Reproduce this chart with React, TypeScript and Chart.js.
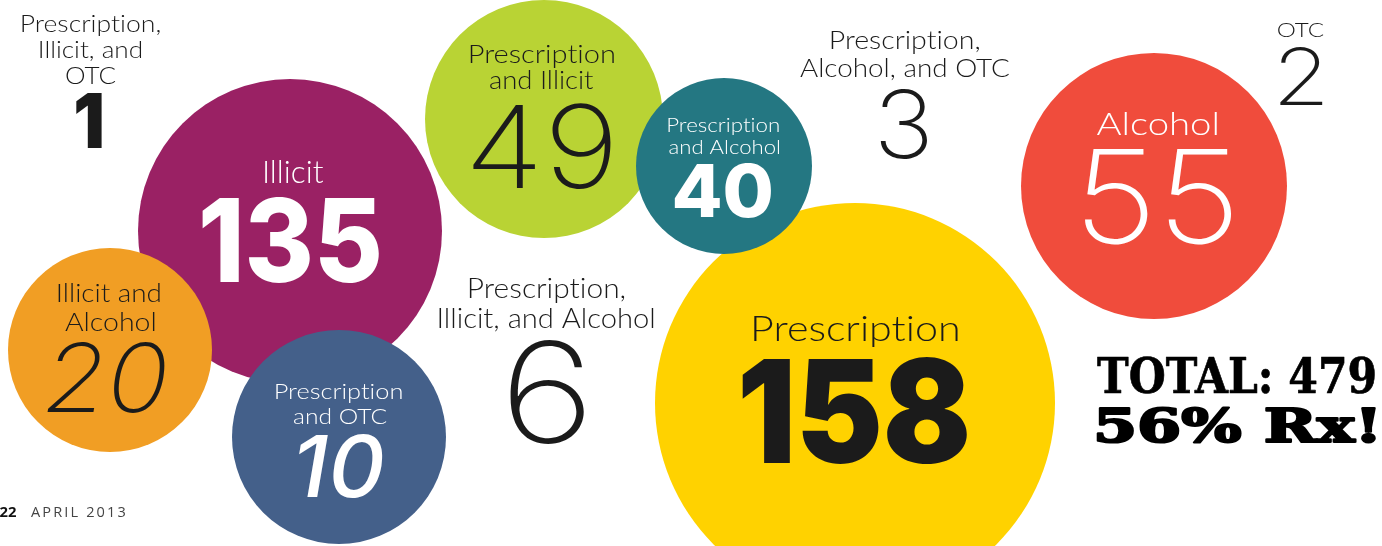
import React, { useEffect, useRef } from "react";
import { Chart, registerables } from "chart.js";

Chart.register(...registerables);

// ---------- data ----------
const categories = [
  "Illicit",
  "Prescription and Illicit",
  "Prescription",
  "Illicit and Alcohol",
  "Prescription and OTC",
  "Prescription and Alcohol",
  "Alcohol",
  "Prescription, Illicit, and OTC",
  "Prescription, Illicit, and Alcohol",
  "Prescription, Alcohol, and OTC",
  "OTC",
];
const counts = [135, 49, 158, 20, 10, 40, 55, 1, 6, 3, 2];
const labelLines = [
  ["Illicit"],
  ["Prescription", "and Illicit"],
  ["Prescription"],
  ["Illicit and", "Alcohol"],
  ["Prescription", "and OTC"],
  ["Prescription", "and Alcohol"],
  ["Alcohol"],
  ["Prescription,", "Illicit, and", "OTC"],
  ["Prescription,", "Illicit, and Alcohol"],
  ["Prescription,", "Alcohol, and OTC"],
  ["OTC"],
];
// bubble placement (data coordinates) and radius
const bubbleX = [290, 544, 855, 110, 339, 724, 1154, 89, 547, 904, 1301];
const bubbleY = [231, 119, 403, 350, 437, 166, 186, 120, 391, 123, 76];
const bubbleR = [152, 119, 200, 102, 107, 88, 133, 0, 0, 0, 0];

const totalLabel = "TOTAL: 479";
const rxLabel = "56% Rx!";
const pageNumber = "22";
const issueDate = "APRIL 2013";

// ---------- styles ----------
const bubbleColors = [
  "#9A2164",
  "#B9D334",
  "#FFD200",
  "#F19E24",
  "#44608A",
  "#247782",
  "#F04C3C",
  "rgba(0,0,0,0)",
  "rgba(0,0,0,0)",
  "rgba(0,0,0,0)",
  "rgba(0,0,0,0)",
];
const INK = "#1b1b1b";
const textColors = [
  "#ffffff", INK, INK, INK, "#ffffff", "#ffffff", "#ffffff", INK, INK, INK, INK,
];
// label line offsets relative to bubble centre: [dx, dy(baseline), inkWidth, capHeight]
const lineLayout: number[][][] = [
  [[4, -48, 58, 22]],
  [[-2, -56, 144, 18], [-2, -30, 104, 18]],
  [[1, -62, 205, 26]],
  [[-1, -48, 102, 18], [0, -19, 90, 18]],
  [[0, -38, 126, 16], [1, -13, 94, 16]],
  [[0, -34, 111, 14], [0, -12, 111, 14]],
  [[3, -51, 121, 23]],
  [[2, -88, 138, 17], [2, -62, 102, 17], [2, -36, 50, 17]],
  [[0, -93, 156, 20], [-1, -63, 215, 20]],
  [[1, -74, 148, 18], [1, -46, 210, 18]],
  [[0, -39, 46, 14]],
];
// number: [dx, dy(baseline), inkWidth, inkHeight]
const numLayout: number[][] = [
  [1, 51, 177, 85],
  [-2, 69, 139, 86],
  [0, 60, 225, 106],
  [-3, 62, 121, 70],
  [3, 60, 86, 63],
  [-1, 51, 97, 54],
  [4, 57, 147, 94],
  [0, 28, 26, 55],
  [0, 52, 74, 103],
  [0, 35, 48, 69],
  [0, 29, 43, 58],
];
const numWeight = [800, 200, 900, 200, 500, 800, 200, 900, 200, 200, 200];
const numItalic = [false, false, false, true, true, false, false, false, false, false, false];

const SANS = "Lato, 'Open Sans', sans-serif";
const NUM = "Inter, 'Open Sans', sans-serif";

function fitText(
  ctx: CanvasRenderingContext2D,
  text: string,
  cx: number,
  baseline: number,
  w: number,
  h: number,
  weight: number | string,
  italic: boolean,
  family: string,
  color: string,
  capMode: boolean,
  spacing = "0px",
  stroke = 0
) {
  const style = italic ? "italic" : "normal";
  ctx.save();
  (ctx as any).letterSpacing = spacing;
  (ctx as any).textRendering = "optimizeSpeed";
  ctx.font = `${style} ${weight} 100px ${family}`;
  const ref = ctx.measureText(capMode ? "H" : text);
  const size = (100 * h) / Math.max(1, ref.actualBoundingBoxAscent);
  ctx.font = `${style} ${weight} ${size}px ${family}`;
  const m = ctx.measureText(text);
  const inkW = m.actualBoundingBoxLeft + m.actualBoundingBoxRight;
  const sx = w / Math.max(1, inkW);
  ctx.translate(cx, baseline);
  ctx.scale(sx, 1);
  ctx.textAlign = "left";
  ctx.textBaseline = "alphabetic";
  const off = (m.actualBoundingBoxRight - m.actualBoundingBoxLeft) / 2;
  ctx.fillStyle = color;
  ctx.fillText(text, -off, 0);
  if (stroke > 0) {
    ctx.strokeStyle = color;
    ctx.lineWidth = stroke / sx;
    ctx.lineJoin = "round";
    ctx.strokeText(text, -off, 0);
  }
  ctx.restore();
}

const labelPlugin = {
  id: "bubbleLabels",
  afterDatasetsDraw(chart: any) {
    const ctx: CanvasRenderingContext2D = chart.ctx;
    const meta = chart.getDatasetMeta(0);
    meta.data.forEach((el: any, i: number) => {
      const { x, y } = el.getProps(["x", "y"], true);
      const color = textColors[i];
      labelLines[i].forEach((line, j) => {
        const [dx, dy, w, h] = lineLayout[i][j];
        fitText(ctx, line, x + dx, y + dy, w, h, 300, false, SANS, color, true);
      });
      const [ndx, ndy, nw, nh] = numLayout[i];
      fitText(ctx, String(counts[i]), x + ndx, y + ndy, nw, nh, numWeight[i], numItalic[i], NUM, color, false);
    });
    // totals
    const serif = "'DejaVu Serif', serif";
    fitText(ctx, totalLabel, 1236, 393, 278, 35, 700, false, serif, "#000", true, "0px", 0.6);
    fitText(ctx, rxLabel, 1236, 442, 278, 34, 700, false, serif, "#000", true, "0px", 3);
    // footer
    fitText(ctx, pageNumber, 8, 517, 17, 10, 700, false, "'Open Sans', sans-serif", "#111", true);
    fitText(ctx, issueDate, 78.5, 517, 95, 10, 400, false, "'Open Sans', sans-serif", "#444", true, "2px");
  },
};

export default function App() {
  const ref = useRef<HTMLCanvasElement | null>(null);
  useEffect(() => {
    document.body.style.margin = "0";
    const canvas = ref.current!;
    const chart = new Chart(canvas, {
      type: "bubble",
      data: {
        labels: categories,
        datasets: [
          {
            label: "Cases",
            data: categories.map((_, i) => ({ x: bubbleX[i], y: bubbleY[i], r: bubbleR[i] })),
            backgroundColor: bubbleColors,
            borderWidth: 0,
            hoverRadius: 0,
            clip: false as any,
          },
        ],
      },
      options: {
        responsive: false,
        maintainAspectRatio: false,
        animation: false,
        devicePixelRatio: 1,
        events: [],
        layout: { padding: 0, autoPadding: false } as any,
        plugins: { legend: { display: false }, tooltip: { enabled: false } },
        scales: {
          x: { type: "linear", min: 0, max: 1382, display: false },
          y: { type: "linear", min: 0, max: 546, reverse: true, display: false },
        },
      },
      plugins: [labelPlugin],
    });
    return () => chart.destroy();
  }, []);
  return (
    <div style={{ width: 1382, height: 546, background: "#fff" }}>
      <canvas ref={ref} width={1382} height={546} style={{ display: "block" }} />
    </div>
  );
}
